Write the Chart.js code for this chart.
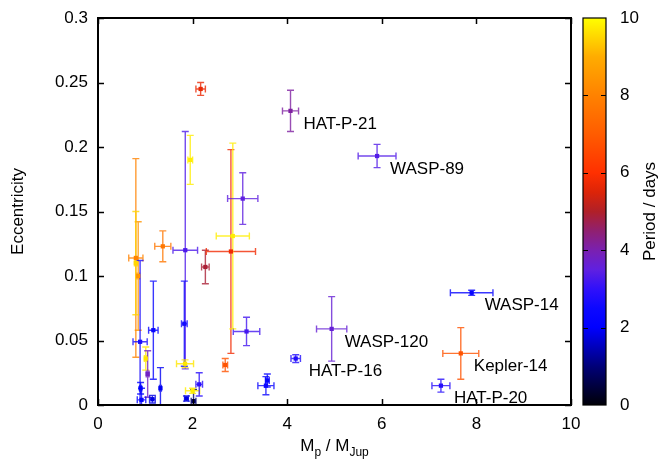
<!DOCTYPE html>
<html>
<head>
<meta charset="utf-8">
<script src="https://cdn.jsdelivr.net/npm/chart.js@4/dist/chart.umd.min.js"></script>
<style>
  html, body { margin: 0; padding: 0; background: #fff; }
</style>
</head>
<body>
<canvas id="chart" width="662" height="459"></canvas>
<script>
// Planet mass (M_Jup), eccentricity, their errors and orbital period (days)
const mass    = [2.17, 1.95, 1.845, 1.825, 1.84, 0.80, 0.85, 0.80, 0.89, 1.01, 1.05, 1.17, 1.32, 0.90, 0.92, 1.15, 1.87, 2.02, 2.00, 2.14, 2.69, 3.55, 3.58, 3.14, 2.27, 2.81, 2.85, 3.06, 1.37, 4.07, 5.90, 4.94, 4.18, 7.90, 7.67, 7.25];
const massErr = [0.10, 0.05, 0.26, 0.06, 0.18, 0.15, 0.03, 0.03, 0.15, 0.03, 0.03, 0.10, 0.02, 0.02, 0.09, 0.06, 0.04, 0.05, 0.15, 0.07, 0.05, 0.17, 0.04, 0.28, 0.08, 0.52, 0.35, 0.32, 0.17, 0.17, 0.40, 0.32, 0.10, 0.45, 0.38, 0.19];
const ecc     = [0.245, 0.190, 0.120, 0.063, 0.032, 0.114, 0.100, 0.110, 0.049, 0.036, 0.024, 0.058, 0.013, 0.013, 0.004, 0.0045, 0.005, 0.003, 0.011, 0.016, 0.031, 0.015, 0.019, 0.057, 0.107, 0.119, 0.131, 0.160, 0.123, 0.228, 0.193, 0.059, 0.036, 0.087, 0.040, 0.015];
const eccErr  = [0.005, 0.019, 0.092, 0.033, 0.003, 0.077, 0.042, 0.040, 0.063, 0.009, 0.018, 0.038, 0.016, 0.0045, 0.009, 0.003, 0.002, 0.009, 0.002, 0.009, 0.005, 0.007, 0.005, 0.011, 0.013, 0.079, 0.072, 0.020, 0.012, 0.016, 0.009, 0.025, 0.003, 0.002, 0.020, 0.005];
const period  = [5.7, 9.8, 3.3, 2.6, 9.7, 8.0, 8.4, 9.5, 2.7, 9.7, 3.8, 2.3, 1.9, 2.0, 2.2, 1.8, 1.8, 0.9, 9.8, 2.9, 6.8, 2.5, 2.3, 3.2, 4.9, 5.8, 9.8, 3.5, 7.7, 4.12, 3.36, 3.61, 2.78, 2.24, 6.79, 2.88];
const names   = ['', '', '', '', '', '', '', '', '', '', '', '', '', '', '', '', '', '', '', '', '', '', '', '', '', '', '', '', '', 'HAT-P-21', 'WASP-89', 'WASP-120', 'HAT-P-16', 'WASP-14', 'Kepler-14', 'HAT-P-20'];

// Axis ranges and ticks
const xRange = [0, 10];
const yRange = [0, 0.3];
const cbRange = [0, 10];
const xStep = 2, yStep = 0.05, cbStep = 2;

const FONT = '"Liberation Sans", Arial, Helvetica, sans-serif';

// Period colour palette (value -> rgb)
const paletteStops = [
  [0, [0, 0, 8]], [1, [0, 0, 120]], [2, [0, 0, 255]], [2.5, [12, 8, 255]],
  [3, [48, 16, 250]], [3.5, [96, 32, 224]], [4, [122, 32, 176]], [4.5, [144, 32, 112]],
  [5, [176, 32, 40]], [5.5, [220, 36, 8]], [6, [255, 48, 0]], [7, [255, 92, 0]],
  [8, [255, 130, 0]], [9, [255, 172, 0]], [10, [255, 255, 0]]
];

function periodColour(p, alpha) {
  let c = paletteStops[paletteStops.length - 1][1];
  for (let i = 0; i < paletteStops.length - 1; i++) {
    const [v0, c0] = paletteStops[i], [v1, c1] = paletteStops[i + 1];
    if (p <= v1) {
      const t = Math.max(0, (p - v0) / (v1 - v0));
      c = c0.map((k, j) => Math.round(k + (c1[j] - k) * t));
      break;
    }
  }
  return `rgba(${c[0]},${c[1]},${c[2]},${alpha === undefined ? 1 : alpha})`;
}

const points = mass.map((m, i) => ({ x: m, y: ecc[i] }));

// fixed scale sizes, no extra label padding around the plot
function fixSize(w, h) {
  return s => {
    if (w) s.width = w;
    if (h) s.height = h;
    s.paddingTop = 0; s.paddingBottom = 0; s.paddingLeft = 0; s.paddingRight = 0;
  };
}

// Error bars, border, inward ticks, colour box, labels and titles
const decor = {
  id: 'decor',
  beforeDatasetsDraw(chart) {
    const { ctx, chartArea: a, scales: { x, y } } = chart;
    ctx.save();
    ctx.beginPath();
    ctx.rect(a.left, a.top, a.width, a.height);
    ctx.clip();
    ctx.lineWidth = 1.4;
    const cap = 3.5;
    mass.forEach((m, i) => {
      const px = x.getPixelForValue(m), py = y.getPixelForValue(ecc[i]);
      const x0 = x.getPixelForValue(m - massErr[i]), x1 = x.getPixelForValue(m + massErr[i]);
      const y0 = y.getPixelForValue(ecc[i] - eccErr[i]), y1 = y.getPixelForValue(ecc[i] + eccErr[i]);
      ctx.strokeStyle = periodColour(period[i], 0.8);
      ctx.beginPath();
      ctx.moveTo(x0, py); ctx.lineTo(x1, py);
      ctx.moveTo(x0, py - cap); ctx.lineTo(x0, py + cap);
      ctx.moveTo(x1, py - cap); ctx.lineTo(x1, py + cap);
      ctx.moveTo(px, y0); ctx.lineTo(px, y1);
      ctx.moveTo(px - cap, y0); ctx.lineTo(px + cap, y0);
      ctx.moveTo(px - cap, y1); ctx.lineTo(px + cap, y1);
      ctx.stroke();
    });
    ctx.restore();
  },
  afterDatasetsDraw(chart) {
    const { ctx, scales: { x, y } } = chart;
    ctx.save();
    ctx.font = '17px ' + FONT;
    ctx.fillStyle = '#000';
    ctx.textAlign = 'left';
    ctx.textBaseline = 'middle';
    names.forEach((n, i) => {
      if (!n) return;
      ctx.fillText(n, x.getPixelForValue(mass[i]) + 13, y.getPixelForValue(ecc[i]) + 13);
    });
    ctx.restore();
  },
  afterDraw(chart) {
    const { ctx, chartArea: a, scales: { x, y, cb } } = chart;
    ctx.save();
    ctx.strokeStyle = '#000';

    // inward ticks on all four sides
    ctx.lineWidth = 1.5;
    ctx.beginPath();
    const tl = 6;
    x.ticks.forEach(t => {
      const px = Math.round(x.getPixelForValue(t.value)) + 0.5;
      ctx.moveTo(px, a.bottom); ctx.lineTo(px, a.bottom - tl);
      ctx.moveTo(px, a.top); ctx.lineTo(px, a.top + tl);
    });
    y.ticks.forEach(t => {
      const py = Math.round(y.getPixelForValue(t.value)) + 0.5;
      ctx.moveTo(a.left, py); ctx.lineTo(a.left + tl, py);
      ctx.moveTo(a.right, py); ctx.lineTo(a.right - tl, py);
    });
    ctx.stroke();
    ctx.lineWidth = 2;
    ctx.strokeRect(a.left, a.top, a.right - a.left, a.bottom - a.top);

    // colour box
    const bx = a.right + 12, bw = 23;
    const top = cb.getPixelForValue(cbRange[1]), bottom = cb.getPixelForValue(cbRange[0]);
    const grad = ctx.createLinearGradient(0, bottom, 0, top);
    paletteStops.forEach(([v]) => grad.addColorStop((v - cbRange[0]) / (cbRange[1] - cbRange[0]), periodColour(v)));
    ctx.fillStyle = grad;
    ctx.fillRect(bx, top, bw, bottom - top);
    ctx.lineWidth = 1.2;
    ctx.strokeRect(bx, top, bw, bottom - top);
    ctx.beginPath();
    cb.ticks.forEach(t => {
      if (t.value === cbRange[0] || t.value === cbRange[1]) return;
      const py = Math.round(cb.getPixelForValue(t.value)) + 0.5;
      ctx.moveTo(bx, py); ctx.lineTo(bx + 5, py);
      ctx.moveTo(bx + bw, py); ctx.lineTo(bx + bw - 5, py);
    });
    ctx.stroke();

    // axis titles
    ctx.fillStyle = '#000';
    ctx.font = '17px ' + FONT;
    ctx.textAlign = 'center';
    ctx.textBaseline = 'middle';
    ctx.save();
    ctx.translate(18, (a.top + a.bottom) / 2);
    ctx.rotate(-Math.PI / 2);
    ctx.fillText('Eccentricity', 0, 0);
    ctx.restore();
    ctx.save();
    ctx.translate(650, (a.top + a.bottom) / 2);
    ctx.rotate(-Math.PI / 2);
    ctx.fillText('Period / days', 0, 0);
    ctx.restore();

    // x title with subscripts: M_p / M_Jup
    const parts = [['M', 17, 0], ['p', 12, 5], [' / M', 17, 0], ['Jup', 12, 5]];
    let total = 0;
    parts.forEach(([s, f]) => { ctx.font = f + 'px ' + FONT; total += ctx.measureText(s).width; });
    let cx = (a.left + a.right) / 2 - total / 2;
    ctx.textAlign = 'left';
    ctx.textBaseline = 'alphabetic';
    parts.forEach(([s, f, dy]) => {
      ctx.font = f + 'px ' + FONT;
      ctx.fillText(s, cx, 451 + dy);
      cx += ctx.measureText(s).width;
    });
    ctx.restore();
  }
};

new Chart(document.getElementById('chart').getContext('2d'), {
  type: 'scatter',
  data: {
    datasets: [{
      data: points,
      pointStyle: 'rect',
      pointRadius: 3,
      pointBorderWidth: 0,
      pointBackgroundColor: period.map(p => periodColour(p)),
      pointBorderColor: period.map(p => periodColour(p))
    }]
  },
  options: {
    responsive: false,
    devicePixelRatio: 1,
    animation: false,
    layout: { padding: { top: 18, left: 0, right: 0, bottom: 0 } },
    plugins: { legend: { display: false }, tooltip: { enabled: false } },
    scales: {
      x: {
        type: 'linear', min: xRange[0], max: xRange[1],
        grid: { display: false, drawTicks: false }, border: { display: false },
        ticks: { stepSize: xStep, padding: 9, color: '#000', font: { family: FONT, size: 17 } },
        afterFit: fixSize(0, 54)
      },
      y: {
        type: 'linear', min: yRange[0], max: yRange[1],
        grid: { display: false, drawTicks: false }, border: { display: false },
        ticks: { stepSize: yStep, padding: 10, color: '#000', font: { family: FONT, size: 17 },
          callback: v => String(Math.round(v * 100) / 100) },
        afterFit: fixSize(98, 0)
      },
      cb: {
        type: 'linear', position: 'right', min: cbRange[0], max: cbRange[1],
        grid: { display: false, drawTicks: false }, border: { display: false },
        ticks: { stepSize: cbStep, padding: 49, color: '#000', font: { family: FONT, size: 17 } },
        afterFit: fixSize(91, 0)
      }
    }
  },
  plugins: [decor]
});
</script>
</body>
</html>
